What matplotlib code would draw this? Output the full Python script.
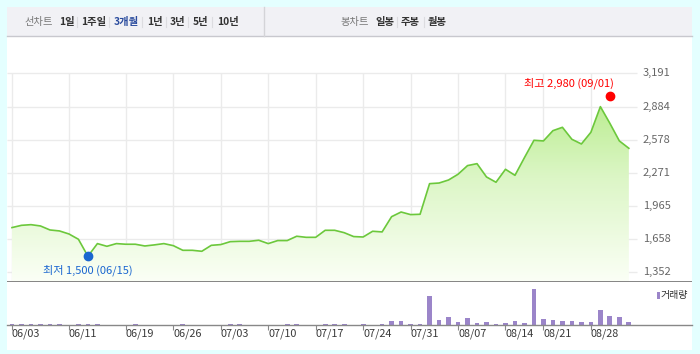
import matplotlib.pyplot as plt
import numpy as np
from matplotlib.colors import LinearSegmentedColormap
from matplotlib.patches import Polygon, Rectangle
from matplotlib.lines import Line2D

plt.rcParams["font.family"] = ["Noto Sans CJK KR", "DejaVu Sans"]

# daily close (66 trading days)
prices = [
    1765, 1786, 1792, 1780, 1743, 1734, 1706, 1657, 1500, 1617,
    1592, 1617, 1611, 1611, 1595, 1605, 1617, 1598, 1555, 1555,
    1546, 1601, 1608, 1635, 1638, 1638, 1648, 1617, 1645, 1645,
    1685, 1675, 1675, 1740, 1740, 1718, 1682, 1678, 1731, 1725,
    1866, 1909, 1885, 1888, 2171, 2177, 2205, 2258, 2338, 2356,
    2233, 2184, 2304, 2248, 2412, 2572, 2566, 2661, 2692, 2581,
    2538, 2646, 2883, 2729, 2566, 2498,
]
volumes = [
    12, 12, 12, 12, 12, 12, 0, 12, 12, 12,
    0, 0, 0, 12, 0, 0, 0, 0, 12, 0,
    0, 0, 0, 12, 12, 0, 0, 0, 0, 12,
    12, 0, 0, 12, 12, 12, 0, 12, 0, 12,
    40, 40, 12, 12, 290, 50, 80, 30, 70, 20,
    30, 10, 20, 40, 20, 360, 60, 50, 40, 40,
    30, 30, 150, 90, 80, 30,
]
tick_idx = [0, 6, 12, 17, 22, 27, 32, 37, 42, 47, 52, 56, 61]
tick_dates = ["06/03", "06/11", "06/19", "06/26", "07/03", "07/10", "07/17",
              "07/24", "07/31", "08/07", "08/14", "08/21", "08/28"]
price_ticks = [1352, 1658, 1965, 2271, 2578, 2884, 3191]
low_idx, low_val, low_label = 8, 1500, "최저 1,500 (06/15)"
high_idx, high_val, high_label = 63, 2980, "최고 2,980 (09/01)"

left_menu = ["선차트", "1일", "1주일", "3개월", "1년", "3년", "5년", "10년"]
right_menu = ["봉차트", "일봉", "주봉", "월봉"]

W, H = 700, 354
fig = plt.figure(figsize=(7, 3.54), dpi=100, facecolor="#e4ffff")


def fx(x):
    return x / W


def fy(y):
    return 1 - y / H


# white panel and top menu bar
fig.patches.append(Rectangle((fx(7), fy(350)), fx(685), 343 / H, transform=fig.transFigure,
                             facecolor="white", edgecolor="none", zorder=-10))
fig.patches.append(Rectangle((fx(7), fy(36)), fx(685), 29 / H, transform=fig.transFigure,
                             facecolor="#f1f1f5", edgecolor="none", zorder=-9))
fig.lines.append(Line2D([fx(7), fx(692)], [fy(36), fy(36)], transform=fig.transFigure,
                        color="#c8c8ce", lw=1))
fig.lines.append(Line2D([fx(264), fx(264)], [fy(7), fy(36)], transform=fig.transFigure,
                        color="#d4d4d8", lw=1))

left_x = [38.5, 66.5, 93.5, 126, 154.5, 177, 201, 228]
for i, (lab, x) in enumerate(zip(left_menu, left_x)):
    if i == 0:
        kw = dict(color="#777777", weight="normal")
    elif lab == "3개월":
        kw = dict(color="#2b4c9e", weight="bold")
    else:
        kw = dict(color="#333333", weight="bold")
    fig.text(fx(x), fy(22), lab, ha="center", va="center", fontsize=7.4, **kw)
for x in [77, 109, 142, 166, 188, 212]:
    fig.lines.append(Line2D([fx(x), fx(x)], [fy(17), fy(27)], transform=fig.transFigure,
                            color="#dcdce0", lw=0.8))
right_x = [355, 384.5, 410.5, 437.5]
for i, (lab, x) in enumerate(zip(right_menu, right_x)):
    kw = dict(color="#777777", weight="normal") if i == 0 else dict(color="#333333", weight="bold")
    fig.text(fx(x), fy(22), lab, ha="center", va="center", fontsize=7.4, **kw)
for x in [397, 424]:
    fig.lines.append(Line2D([fx(x), fx(x)], [fy(17), fy(27)], transform=fig.transFigure,
                            color="#dcdce0", lw=0.8))

# price axes
dx = 9.49
xmin = (7 - 12) / dx
xmax = (692 - 12) / dx
ymin, ymax = 1262, 3536
grid_right = (637 - 12) / dx

ax = fig.add_axes([fx(7), fy(282), fx(685), (282 - 36) / H])
ax.set_xlim(xmin, xmax)
ax.set_ylim(ymin, ymax)
ax.axis("off")

idx = np.arange(len(prices))
ax.hlines(price_ticks, xmin, grid_right, color="#ebebeb", lw=1, zorder=1)
ax.vlines(tick_idx, ymin, price_ticks[-1], color="#ebebeb", lw=1, zorder=1)
ax.axhline(ymin, color="#707070", lw=1.2, zorder=5)

cmap = LinearSegmentedColormap.from_list("g", ["#fbfff6", "#dcf6c6", "#aee97c"])
grad = np.linspace(0, 1, 256).reshape(-1, 1)
im = ax.imshow(grad, extent=[xmin, xmax, ymin, price_ticks[-1]], origin="lower",
               aspect="auto", cmap=cmap, zorder=2)
verts = [(idx[0], ymin)] + list(zip(idx, prices)) + [(idx[-1], ymin)]
clip = Polygon(verts, closed=True, facecolor="none", edgecolor="none")
ax.add_patch(clip)
im.set_clip_path(clip)
ax.plot(idx, prices, color="#6cc83c", lw=1.2, zorder=3)

for v in price_ticks:
    ax.text(0.9285, v, f"{v:,}", transform=ax.get_yaxis_transform(), ha="left",
            va="center", fontsize=8, color="#666666")

ax.plot(low_idx, low_val, "o", color="#1a66d0", ms=6, zorder=6)
ax.annotate(low_label, (low_idx, low_val), xytext=(0, -14), textcoords="offset pixels",
            ha="center", va="center", fontsize=8, color="#1a66d0")
ax.plot(high_idx, high_val, "o", color="#ff0000", ms=6, zorder=6)
ax.annotate(high_label, (high_idx, high_val), xytext=(4, 13), textcoords="offset pixels",
            ha="right", va="center", fontsize=8, color="#ff0000")

# volume axes
vax = fig.add_axes([fx(7), fy(325), fx(685), (325 - 282) / H])
vax.set_xlim(xmin, xmax)
vax.set_ylim(0, 430)
vax.set_facecolor("none")
vax.bar(idx, volumes, width=0.5, color="#9b85c9")
for s in ["top", "left", "right"]:
    vax.spines[s].set_visible(False)
vax.spines["bottom"].set_color("#888888")
vax.spines["bottom"].set_linewidth(1)
vax.set_yticks([])
vax.set_xticks(tick_idx)
vax.set_xticklabels(tick_dates, ha="left", fontsize=7.8, color="#3a3a3a")
vax.tick_params(axis="x", length=3.6, width=0.8, color="#888888", pad=-1)

fig.patches.append(Rectangle((fx(657), fy(298.5)), fx(3.2), 7 / H, transform=fig.transFigure,
                             facecolor="#9b85c9", edgecolor="none"))
fig.text(fx(661), fy(295), "거래량", ha="left", va="center", fontsize=7.2, color="#333333")

fig.savefig("out.png", dpi=100, facecolor=fig.get_facecolor())
